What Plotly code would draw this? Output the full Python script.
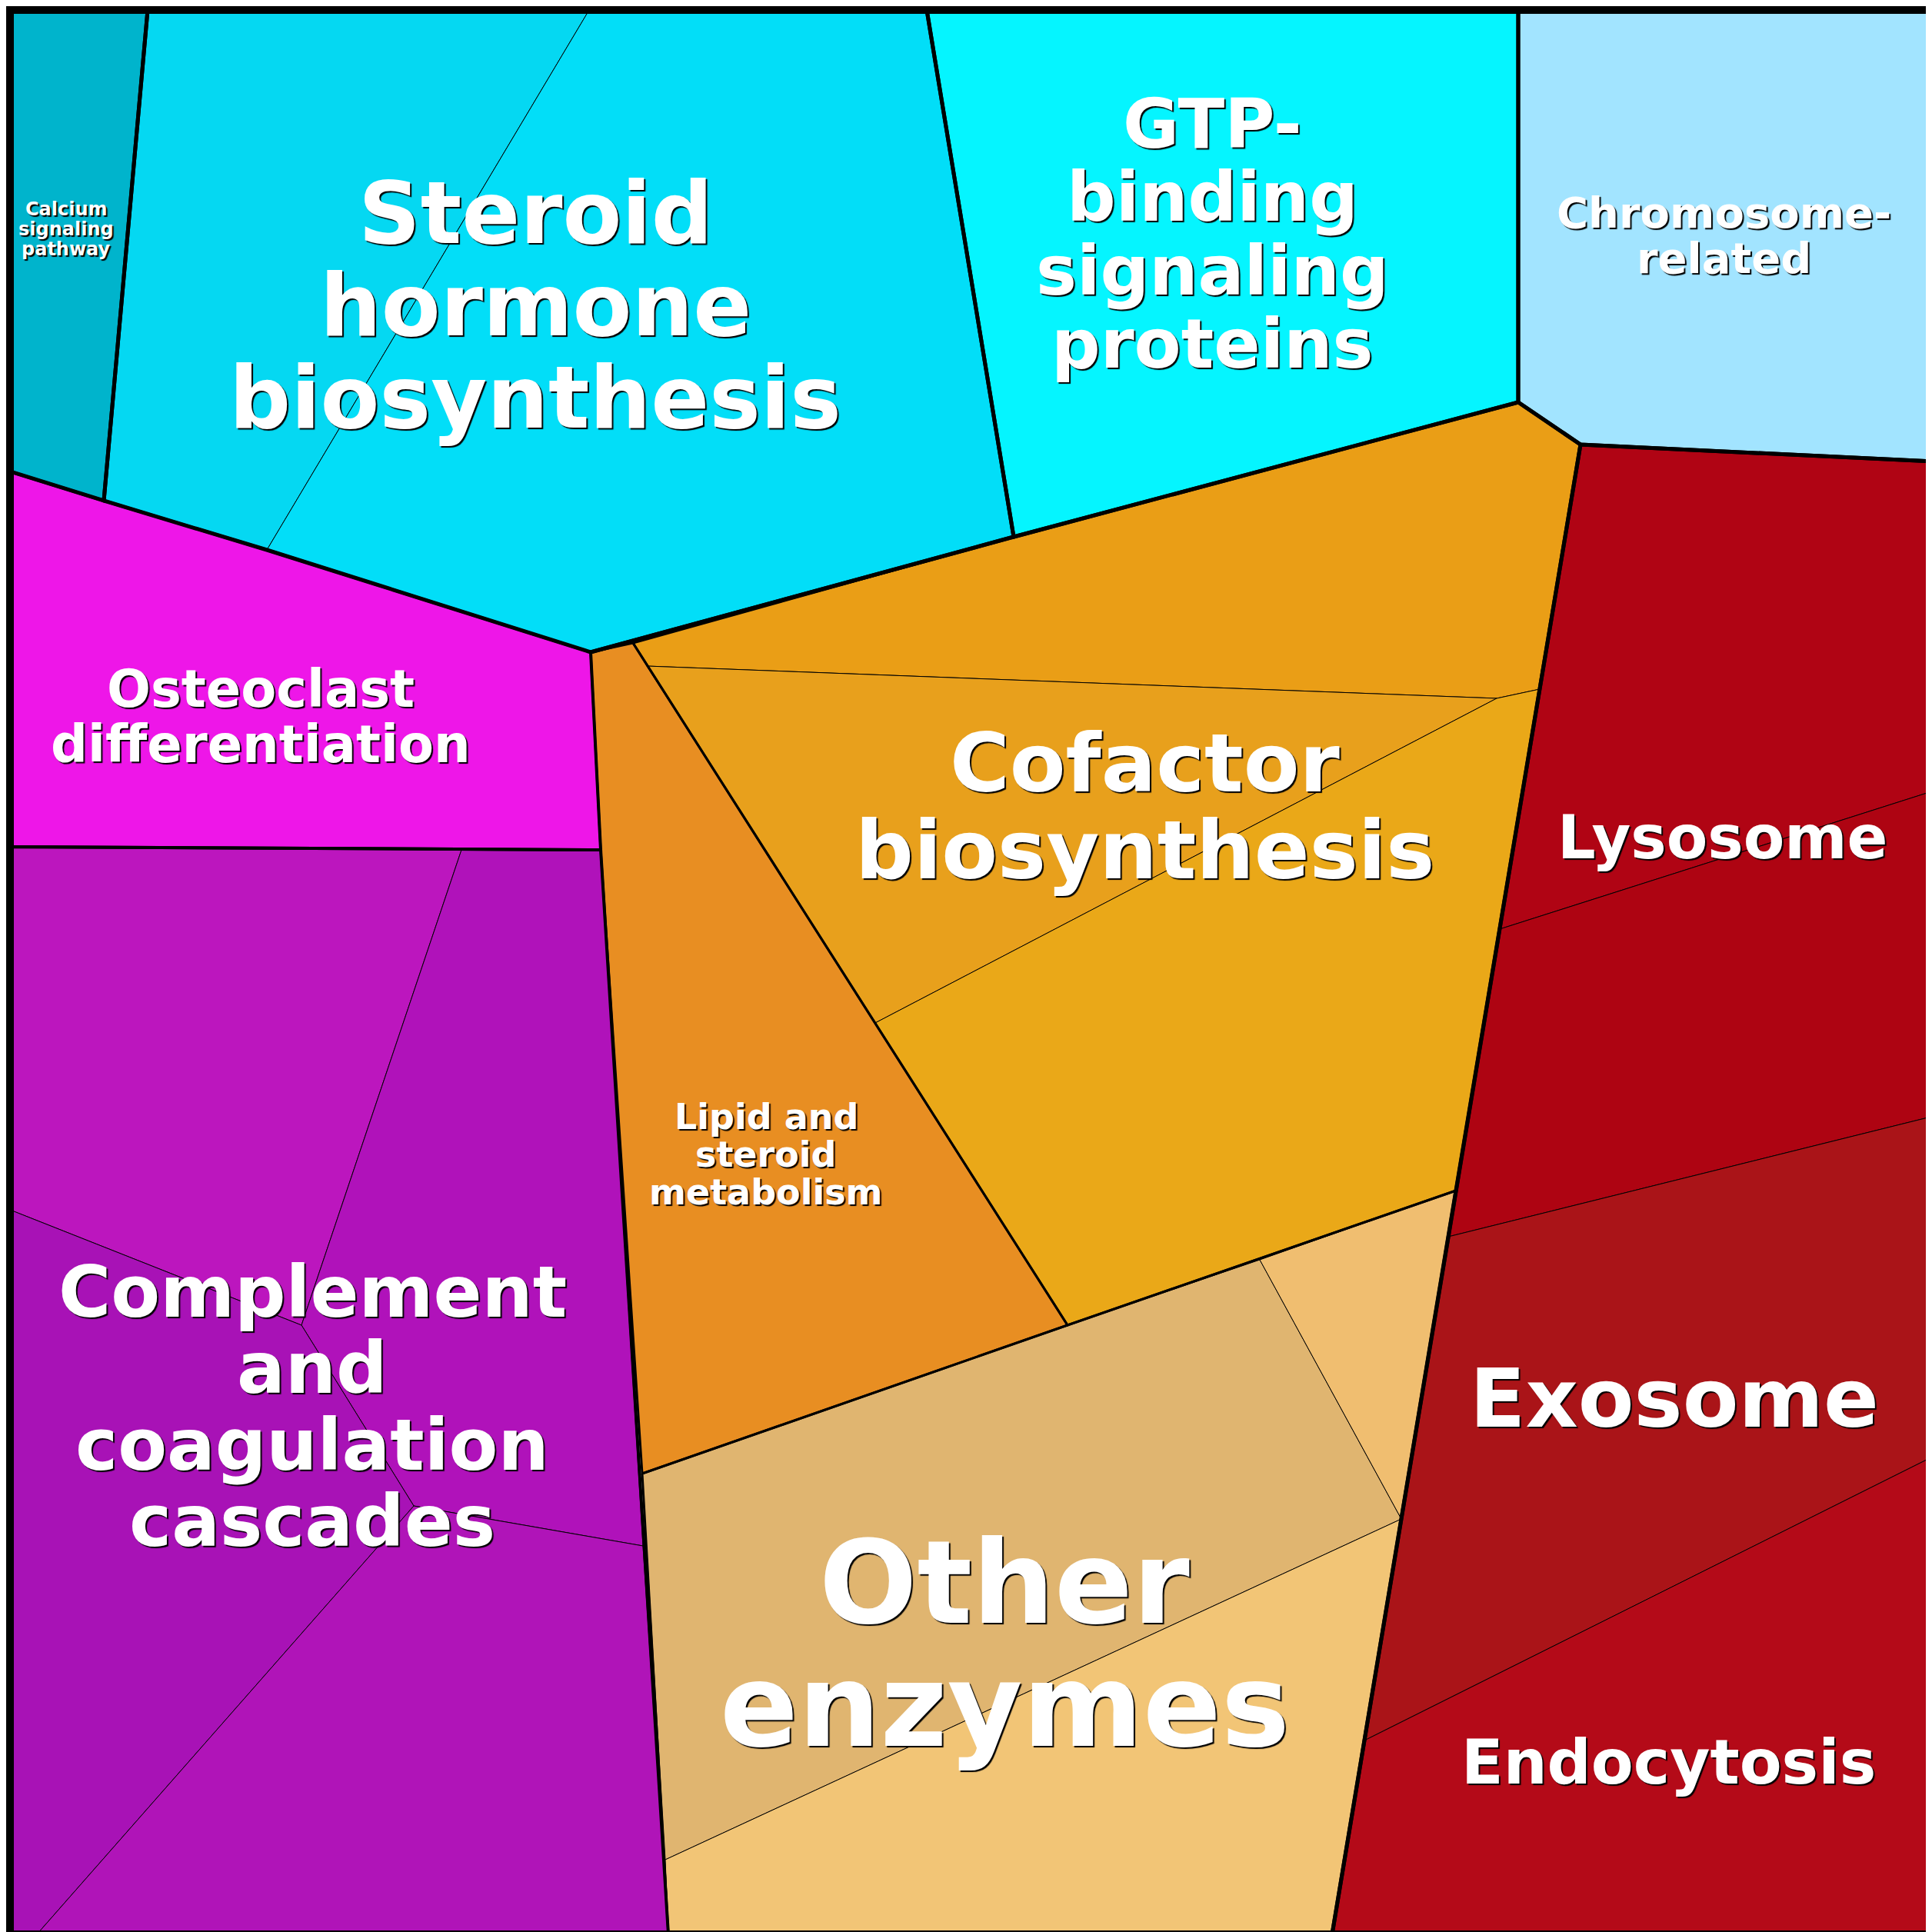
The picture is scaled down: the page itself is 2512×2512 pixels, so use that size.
import plotly.graph_objects as go

# Voronoi treemap cells: (colour, polygon vertices in pixel space)
cell_colors = ["#00B4CC", "#05D8F2", "#02DEF8", "#05F5FF", "#A2E4FF", "#EE16E8",
               "#BC16BE", "#B012BA", "#A812B6", "#B014B8", "#E88E22",
               "#EA9E16", "#E8A01C", "#EAA818", "#E0B570", "#F0BE70", "#F2C576",
               "#B00414", "#AE0412", "#AA1418", "#B40A18"]
cell_polys = [
    [(5, 5), (184, 5), (127, 643), (5, 605)],
    [(184, 5), (758, 5), (339, 707), (127, 643)],
    [(758, 5), (1197, 5), (1310, 690), (760, 840), (339, 707)],
    [(1197, 5), (1966, 5), (1966, 515), (1310, 690)],
    [(1966, 5), (2507, 5), (2507, 592), (2047, 570), (1966, 515)],
    [(5, 605), (127, 643), (339, 707), (760, 840), (773, 1097), (5, 1093)],
    [(5, 1093), (592, 1097), (384, 1715), (5, 1565)],
    [(592, 1097), (773, 1097), (828, 2002), (530, 1950), (384, 1715)],
    [(5, 1565), (384, 1715), (530, 1950), (40, 2507), (5, 2507)],
    [(530, 1950), (828, 2002), (861, 2507), (40, 2507)],
    [(760, 840), (815, 828), (1380, 1715), (827, 1908), (773, 1097)],
    [(815, 828), (1310, 690), (1966, 515), (2047, 570), (1994, 888), (1938, 900), (833, 858)],
    [(833, 858), (1938, 900), (1130, 1322)],
    [(1938, 900), (1994, 888), (1885, 1540), (1380, 1715), (1130, 1322)],
    [(827, 1908), (1380, 1715), (1630, 1630), (1814, 1967), (857, 2410)],
    [(1630, 1630), (1885, 1540), (1814, 1967)],
    [(857, 2410), (1814, 1967), (1724, 2507), (861, 2507)],
    [(2047, 570), (2507, 592), (2507, 1020), (1942, 1200)],
    [(1942, 1200), (2507, 1020), (2507, 1443), (1875, 1600)],
    [(1875, 1600), (2507, 1443), (2507, 1885), (1766, 2255)],
    [(1766, 2255), (2507, 1885), (2507, 2507), (1724, 2507)],
]

# group outlines
group_polys = [
    [(5, 5), (184, 5), (127, 643), (5, 605)],
    [(184, 5), (1197, 5), (1310, 690), (760, 840), (339, 707), (127, 643)],
    [(1197, 5), (1966, 5), (1966, 515), (1310, 690)],
    [(1966, 5), (2507, 5), (2507, 592), (2047, 570), (1966, 515)],
    [(5, 605), (127, 643), (339, 707), (760, 840), (773, 1097), (5, 1093)],
    [(5, 1093), (773, 1097), (861, 2507), (5, 2507)],
    [(760, 840), (815, 828), (1380, 1715), (827, 1908), (773, 1097)],
    [(815, 828), (1310, 690), (1966, 515), (2047, 570), (1885, 1540), (1380, 1715)],
    [(827, 1908), (1380, 1715), (1885, 1540), (1724, 2507), (861, 2507)],
    [(2047, 570), (2507, 592), (2507, 2507), (1724, 2507), (1885, 1540)],
]
group_widths = [5, 5, 5, 5, 4, 4, 3, 3, 3, 5]
top_outline = [(760, 840), (1310, 690), (1966, 515), (2047, 570), (1724, 2507)]

labels = ["Calcium<br>signaling<br>pathway", "Steroid<br>hormone<br>biosynthesis",
          "GTP-<br>binding<br>signaling<br>proteins", "Chromosome-<br>related",
          "Osteoclast<br>differentiation", "Complement<br>and<br>coagulation<br>cascades",
          "Lipid and<br>steroid<br>metabolism", "Cofactor<br>biosynthesis",
          "Other<br>enzymes", "Lysosome", "Exosome", "Endocytosis"]
label_x = [78, 688, 1568, 2233, 331, 398, 988, 1480, 1298, 2231, 2169, 2161]
label_y = [290, 389, 296, 298, 924, 1821, 1493, 1041, 2130, 1081, 1810, 2283]
label_size = [24, 112, 89, 56, 67, 93, 46, 106, 150, 78, 106, 80]

fig = go.Figure()

for color, poly in zip(cell_colors, cell_polys):
    xs = [p[0] for p in poly] + [poly[0][0]]
    ys = [p[1] for p in poly] + [poly[0][1]]
    fig.add_trace(go.Scatter(x=xs, y=ys, fill="toself", fillcolor=color, mode="lines",
                             line=dict(color="black", width=1), hoverinfo="skip"))

for poly, w in zip(group_polys, group_widths):
    xs = [p[0] for p in poly] + [poly[0][0]]
    ys = [p[1] for p in poly] + [poly[0][1]]
    fig.add_trace(go.Scatter(x=xs, y=ys, mode="lines",
                             line=dict(color="black", width=w), hoverinfo="skip"))

fig.add_trace(go.Scatter(x=[p[0] for p in top_outline], y=[p[1] for p in top_outline],
                         mode="lines", line=dict(color="black", width=5), hoverinfo="skip"))

# outer frame
fig.add_shape(type="rect", x0=5, y0=5, x1=2507, y1=2507, line=dict(color="black", width=10))

# one annotation per line so the line spacing can be tighter than plotly's default
for t, x, y, s in zip(labels, label_x, label_y, label_size):
    lines = t.split("<br>")
    gap = 1.07 * s
    for i, line in enumerate(lines):
        ly = y + (i - (len(lines) - 1) / 2) * gap
        fig.add_annotation(x=x, y=ly, text="<b>" + line + "</b>", showarrow=False,
                           font=dict(family="DejaVu Sans", size=s, color="white",
                                     shadow="2px 2px 1px black"),
                           xanchor="center", yanchor="middle")

fig.update_layout(
    width=2512, height=2512, margin=dict(l=0, r=0, t=0, b=0),
    showlegend=False, plot_bgcolor="white", paper_bgcolor="white",
    xaxis=dict(range=[0, 2512], visible=False),
    yaxis=dict(range=[2512, 0], visible=False),
)

fig.write_html("out.html")
